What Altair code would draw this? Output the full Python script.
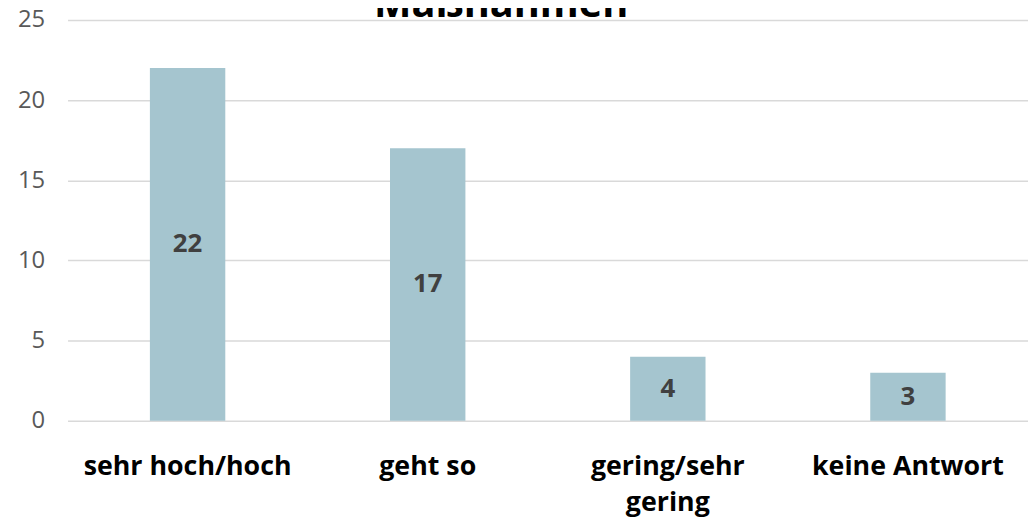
import altair as alt
import pandas as pd

categories = ["sehr hoch/hoch", "geht so", "gering/sehr gering", "keine Antwort"]
values = [22, 17, 4, 3]
y_ticks = [0, 5, 10, 15, 20, 25]

df = pd.DataFrame({"cat": categories, "value": values})

FONT = "Open Sans"

x_enc = alt.X(
    "cat:N",
    sort=categories,
    title=None,
    scale=alt.Scale(paddingInner=0.686, paddingOuter=0.343),
    axis=alt.Axis(
        labelAngle=0,
        labelFont=FONT,
        labelFontSize=27,
        labelFontWeight="bold",
        labelColor="#000000",
        labelPadding=33,
        labelLineHeight=36,
        labelLimit=400,
        labelExpr="datum.label == 'gering/sehr gering' ? ['gering/sehr', 'gering'] : datum.label",
        ticks=False,
        domain=False,
        grid=False,
    ),
)

bars = alt.Chart(df).mark_bar(color="#A5C5CF").encode(
    x=x_enc,
    y=alt.Y(
        "value:Q",
        title=None,
        scale=alt.Scale(domain=[0, 25], nice=False),
        axis=alt.Axis(
            values=y_ticks,
            labelFont=FONT,
            labelFontSize=24,
            labelColor="#595959",
            labelPadding=23,
            ticks=False,
            domain=False,
            gridColor="#D9D9D9",
            gridWidth=1.5,
        ),
    ),
)

labels = alt.Chart(df).transform_calculate(mid="datum.value / 2").mark_text(
    font=FONT, fontSize=26, fontWeight="bold", color="#404040", baseline="middle"
).encode(
    x=alt.X("cat:N", sort=categories),
    y=alt.Y("mid:Q"),
    text=alt.Text("value:Q"),
)

chart = (
    alt.layer(bars, labels)
    .properties(
        width=968,
        height=404,
        padding={"left": 60, "top": 10, "right": 0, "bottom": 96},
        autosize=alt.AutoSizeParams(type="none"),
        title=alt.TitleParams(
            "Maßnahmen",
            font=FONT,
            fontSize=40,
            fontWeight="bold",
            color="#000000",
            anchor="middle",
            baseline="bottom",
            frame="group",
            offset=-57,
            dx=-47,
        ),
    )
    .configure_view(stroke=None)
)

chart.save("out.html", embed_options={"renderer": "svg", "actions": False})
